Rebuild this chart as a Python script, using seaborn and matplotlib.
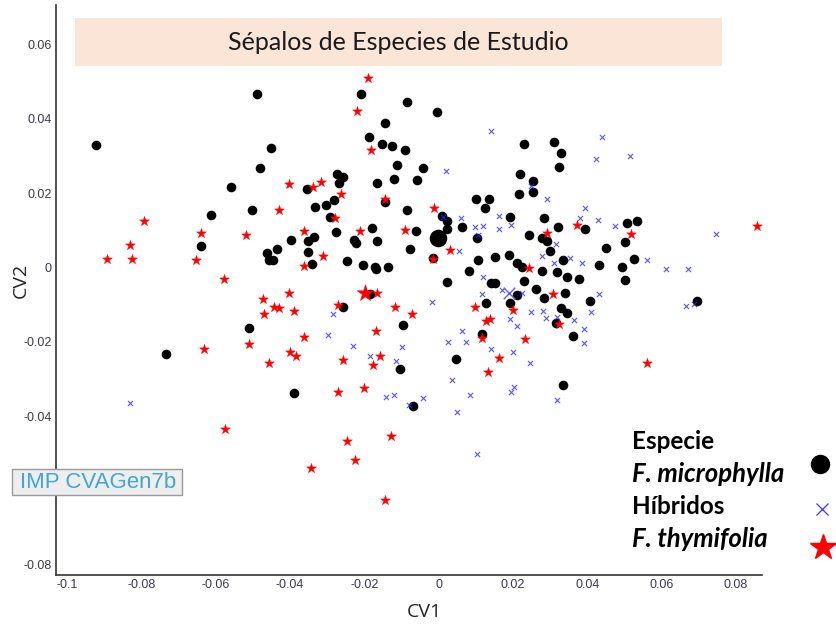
import matplotlib
matplotlib.use("Agg")
import matplotlib.pyplot as plt
import seaborn as sns
import pandas as pd
from matplotlib.patches import Rectangle

# ---------------- data ----------------
mic_cv1 = [-0.0921, -0.0488, -0.0451, -0.0480, -0.0558, -0.0612, -0.0502, -0.0639, -0.0208, -0.0085,
           -0.0144, -0.0187, -0.0152, -0.0125, -0.0090, -0.0112, -0.0120, -0.0165, -0.0058, -0.0273,
           -0.0257, -0.0268, -0.0354, -0.0332, -0.0303, -0.0281, -0.0292, -0.0144, -0.0085, -0.0397,
           -0.0351, -0.0335, -0.0351, -0.0276, -0.0227, -0.0222, -0.0179, -0.0165, -0.0061, -0.0077,
           -0.0434, -0.0461, -0.0456, -0.0445, -0.0340, -0.0246, -0.0203, -0.0171, -0.0168, -0.0136,
           -0.0257, -0.0184, -0.0095, -0.0510, -0.0733, -0.0104, -0.0389, -0.0069, -0.0004, -0.0042,
           0.0009, 0.0023, 0.0023, -0.0015, 0.0023, 0.0230, 0.0311, 0.0330, 0.0324, 0.0219,
           0.0254, 0.0254, 0.0216, 0.0101, 0.0136, 0.0125, 0.0192, 0.0284, 0.0063, 0.0321,
           0.0394, 0.0507, 0.0534, 0.0501, 0.0104, 0.0243, 0.0278, 0.0292, 0.0451, 0.0106,
           0.0152, 0.0190, 0.0300, 0.0335, 0.0526, 0.0211, 0.0225, 0.0432, 0.0494, 0.0319,
           0.0346, 0.0378, 0.0278, 0.0230, 0.0082, 0.0502, 0.0141, 0.0152, 0.0211, 0.0262,
           0.0284, 0.0340, 0.0407, 0.0128, 0.0192, 0.0329, 0.0346, 0.0696, 0.0316, 0.0362,
           0.0117, 0.0047, 0.0335]
mic_cv2 = [0.0330, 0.0467, 0.0322, 0.0268, 0.0217, 0.0141, 0.0155, 0.0058, 0.0467, 0.0445,
           0.0389, 0.0351, 0.0332, 0.0327, 0.0316, 0.0276, 0.0238, 0.0227, 0.0235, 0.0252,
           0.0243, 0.0227, 0.0211, 0.0163, 0.0168, 0.0182, 0.0136, 0.0176, 0.0155, 0.0074,
           0.0071, 0.0082, 0.0042, 0.0096, 0.0074, 0.0066, 0.0106, 0.0071, 0.0098, 0.0050,
           0.0050, 0.0039, 0.0020, 0.0020, 0.0009, 0.0017, 0.0007, 0.0001, -0.0004, 0.0001,
           -0.0106, -0.0071, -0.0155, -0.0163, -0.0233, -0.0273, -0.0338, -0.0373, 0.0418, 0.0268,
           0.0139, 0.0125, 0.0104, 0.0026, -0.0039, 0.0332, 0.0338, 0.0308, 0.0270, 0.0251,
           0.0233, 0.0203, 0.0198, 0.0184, 0.0184, 0.0160, 0.0136, 0.0133, 0.0109, 0.0109,
           0.0104, 0.0120, 0.0125, 0.0069, 0.0079, 0.0087, 0.0079, 0.0071, 0.0052, 0.0020,
           0.0028, 0.0034, 0.0044, 0.0020, 0.0023, 0.0012, 0.0001, 0.0007, 0.0001, -0.0012,
           -0.0026, -0.0031, -0.0009, -0.0036, -0.0009, -0.0034, -0.0042, -0.0042, -0.0074, -0.0058,
           -0.0082, -0.0069, -0.0090, -0.0096, -0.0096, -0.0110, -0.0123, -0.0090, -0.0150, -0.0184,
           -0.0179, -0.0246, -0.0316]

hib_cv1 = [0.0020, 0.0141, 0.0440, 0.0515, 0.0424, 0.0249, 0.0292, 0.0394, 0.0163, 0.0381,
           0.0429, 0.0060, 0.0012, 0.0098, 0.0120, 0.0163, 0.0195, 0.0475, 0.0316, 0.0106,
           0.0746, 0.0055, 0.0278, 0.0354, 0.0561, 0.0612, 0.0671, 0.0311, 0.0386, 0.0120,
           0.0171, 0.0225, 0.0432, 0.0117, -0.0017, 0.0249, 0.0281, 0.0410, 0.0666, 0.0688,
           0.0319, 0.0289, 0.0192, 0.0211, 0.0364, 0.0391, 0.0063, 0.0025, 0.0074, 0.0391,
           0.0141, 0.0200, 0.0246, 0.0036, 0.0203, 0.0195, 0.0085, 0.0319, 0.0050, 0.0104,
           -0.0284, -0.0297, -0.0230, -0.0098, -0.0184, -0.0114, -0.0141, -0.0120, -0.0042, -0.0079,
           -0.0830]
hib_cv2 = [0.0260, 0.0367, 0.0351, 0.0300, 0.0292, 0.0219, 0.0184, 0.0160, 0.0139, 0.0133,
           0.0128, 0.0133, 0.0136, 0.0109, 0.0112, 0.0104, 0.0114, 0.0112, 0.0063, 0.0087,
           0.0090, 0.0044, 0.0031, 0.0026, 0.0020, -0.0004, -0.0004, 0.0012, 0.0012, -0.0026,
           -0.0060, -0.0069, -0.0071, -0.0071, -0.0093, -0.0120, -0.0117, -0.0120, -0.0104, -0.0098,
           -0.0133, -0.0136, -0.0139, -0.0157, -0.0141, -0.0166, -0.0171, -0.0200, -0.0200, -0.0203,
           -0.0219, -0.0227, -0.0257, -0.0303, -0.0322, -0.0335, -0.0343, -0.0356, -0.0389, -0.0502,
           -0.0125, -0.0182, -0.0211, -0.0214, -0.0238, -0.0252, -0.0348, -0.0343, -0.0351, -0.0370,
           -0.0365]

thy_cv1 = [-0.0190, -0.0219, -0.0182, -0.0401, -0.0338, -0.0316, -0.0262, -0.0429, -0.0144, -0.0278,
           -0.0792, -0.0639, -0.0518, -0.0361, -0.0211, -0.0090, -0.0830, -0.0891, -0.0824, -0.0652,
           -0.0311, -0.0361, -0.0577, -0.0401, -0.0166, -0.0472, -0.0270, -0.0117, -0.0071, -0.0469,
           -0.0442, -0.0429, -0.0389, -0.0631, -0.0510, -0.0361, -0.0168, -0.0399, -0.0383, -0.0455,
           -0.0257, -0.0176, -0.0157, -0.0270, -0.0200, -0.0574, -0.0128, -0.0246, -0.0225, -0.0343,
           -0.0144, -0.0012, -0.0015, 0.0031, 0.0373, 0.0292, 0.0518, 0.0856, 0.0243, 0.0308,
           0.0098, 0.0200, 0.0128, 0.0139, 0.0324, 0.0117, 0.0233, 0.0163, 0.0133, 0.0561]
thy_cv2 = [0.0510, 0.0421, 0.0316, 0.0225, 0.0217, 0.0230, 0.0198, 0.0155, 0.0184, 0.0133,
           0.0125, 0.0093, 0.0087, 0.0098, 0.0098, 0.0101, 0.0060, 0.0023, 0.0023, 0.0020,
           0.0031, 0.0004, -0.0031, -0.0069, -0.0069, -0.0085, -0.0101, -0.0107, -0.0125, -0.0124,
           -0.0107, -0.0110, -0.0116, -0.0219, -0.0206, -0.0187, -0.0171, -0.0227, -0.0238, -0.0257,
           -0.0249, -0.0262, -0.0238, -0.0335, -0.0324, -0.0434, -0.0453, -0.0467, -0.0518, -0.0539,
           -0.0625, 0.0160, 0.0023, 0.0047, 0.0114, 0.0093, 0.0090, 0.0111, -0.0001, -0.0071,
           -0.0107, -0.0114, -0.0144, -0.0139, -0.0152, -0.0190, -0.0192, -0.0243, -0.0281, -0.0257]

# group means (large markers)
centroid_cv1 = [-0.0001, 0.0190, -0.0198]
centroid_cv2 = [0.0079, -0.0069, -0.0069]

x_ticks = [-0.1, -0.08, -0.06, -0.04, -0.02, 0, 0.02, 0.04, 0.06, 0.08]
x_tick_labels = ["-0.1", "-0.08", "-0.06", "-0.04", "-0.02", "0", "0.02", "0.04", "0.06", "0.08"]
y_ticks = [-0.08, -0.06, -0.04, -0.02, 0, 0.02, 0.04, 0.06]
# the -0.06 label is hidden behind the "IMP CVAGen7b" box in the reference
y_tick_labels = ["-0.08", "", "-0.04", "-0.02", "0", "0.02", "0.04", "0.06"]

title = "Sépalos de Especies de Estudio"
legend_title = "Especie"
species = ["F. microphylla", "Híbridos", "F. thymifolia"]

mic = pd.DataFrame({"CV1": mic_cv1, "CV2": mic_cv2})
hib = pd.DataFrame({"CV1": hib_cv1, "CV2": hib_cv2})
thy = pd.DataFrame({"CV1": thy_cv1, "CV2": thy_cv2})

# ---------------- figure ----------------
sns.set_style("white")
W, H = 837, 630
fig = plt.figure(figsize=(W / 100, H / 100), dpi=100)
ax = fig.add_axes([56 / W, 55 / H, 706 / W, 570 / H])

sns.scatterplot(data=mic, x="CV1", y="CV2", ax=ax, marker="o", color="black",
                s=48, linewidth=0, zorder=3)
sns.scatterplot(data=hib, x="CV1", y="CV2", ax=ax, marker="x", color="#2a2aff",
                s=14, linewidth=0.8, alpha=0.8, zorder=4)
sns.scatterplot(data=thy, x="CV1", y="CV2", ax=ax, marker="*", color="red",
                s=55, linewidth=0.3, edgecolor="red", zorder=5)
# centroids
sns.scatterplot(x=centroid_cv1[:1], y=centroid_cv2[:1], ax=ax, marker="o", color="black",
                s=160, linewidth=0, zorder=6)
sns.scatterplot(x=centroid_cv1[1:2], y=centroid_cv2[1:2], ax=ax, marker="x", color="#5a5aff",
                s=70, linewidth=1.0, zorder=6)
sns.scatterplot(x=centroid_cv1[2:], y=centroid_cv2[2:], ax=ax, marker="*", color="red",
                s=160, linewidth=0.3, edgecolor="red", zorder=6)

ax.set_xlim(-0.1029, 0.087)
ax.set_ylim(-0.0827, 0.0706)
ax.set_xticks(x_ticks)
ax.set_xticklabels(x_tick_labels)
ax.set_yticks(y_ticks)
ax.set_yticklabels(y_tick_labels)
ax.tick_params(direction="in", length=6, width=1.0, color="#444444",
               labelsize=9, labelcolor="#3a3a4a", pad=3)
for lab in ax.get_xticklabels() + ax.get_yticklabels():
    lab.set_family("Liberation Sans")
for s in ["top", "right"]:
    ax.spines[s].set_visible(False)
for s in ["left", "bottom"]:
    ax.spines[s].set_color("#333333")
    ax.spines[s].set_linewidth(1.2)
ax.set_xlabel("")
ax.set_ylabel("")

# axis labels
fig.text(424 / W, 1 - 612 / H, "CV1", ha="center", va="center", fontsize=14,
         family="Open Sans", color="#222222")
fig.text(21 / W, 1 - 280 / H, "CV2", ha="center", va="center", fontsize=14,
         family="Open Sans", color="#222222", rotation=90)

# overlay in figure pixels for decorations
ov = fig.add_axes([0, 0, 1, 1], zorder=10)
ov.set_xlim(0, W)
ov.set_ylim(H, 0)
ov.axis("off")
ov.patch.set_alpha(0)

# title box
ov.add_patch(Rectangle((75, 18), 647, 48, facecolor="#FBE5D6", edgecolor="none"))
ov.text(398, 43, title, ha="center", va="center", fontsize=18, family="Lato", color="#1a1a1a")

# IMP label box
ov.add_patch(Rectangle((12, 469), 170, 26, facecolor="#EEEEEE", edgecolor="#9a9a9a", linewidth=1))
ov.text(20, 482, "IMP CVAGen7b", ha="left", va="center", fontsize=16,
        family="Liberation Sans", color="#41A5D6")

# legend text
ov.text(632, 449, legend_title, ha="left", va="baseline", fontsize=17.5, fontweight="bold",
        family="Lato", color="black")
ov.text(632, 482, species[0], ha="left", va="baseline", fontsize=18.5, fontweight="bold",
        style="italic", family="Lato", color="black")
ov.text(632, 514, species[1], ha="left", va="baseline", fontsize=17.5, fontweight="bold",
        family="Lato", color="black")
ov.text(632, 547, species[2], ha="left", va="baseline", fontsize=18.5, fontweight="bold",
        style="italic", family="Lato", color="black")
ov.plot([820], [464], marker="o", color="black", markersize=13, linestyle="none")
ov.plot([822], [509], marker="x", color="#3a3aff", markersize=9, markeredgewidth=0.9, linestyle="none")
ov.plot([823], [547], marker="*", color="red", markersize=19, linestyle="none")

fig.savefig("out.png", dpi=100)
